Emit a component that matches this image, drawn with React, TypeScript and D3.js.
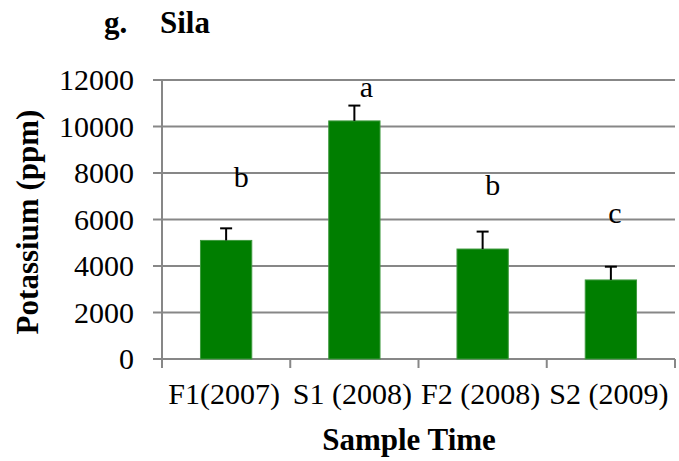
import * as d3 from "d3";

// Datos del gráfico (Sila)
const categorias = ["F1(2007)", "S1 (2008)", "F2 (2008)", "S2 (2009)"];
const potasio = [5100, 10240, 4730, 3400];
const errores = [520, 660, 750, 570];
const letras = ["b", "a", "b", "c"];
const letrasY = [7410, 11280, 7050, 5860];
const ticksY = [0, 2000, 4000, 6000, 8000, 10000, 12000];

const FUENTE = "Liberation Serif";

const width = 679;
const height = 461;
const left = 162;
const right = 675;
const top = 80;
const bottom = 359;
const grisEje = "#878787";

const App = () => {
  const x = d3.scaleBand<string>().domain(categorias).range([left, right]).padding(0);
  const y = d3.scaleLinear().domain([0, 12000]).range([bottom, top]);
  const barW = x.bandwidth() * 0.4;
  const cx = (c: string) => (x(c) as number) + x.bandwidth() / 2;
  // pequeños desplazamientos de las letras respecto al centro de la barra
  const dxLetra = [15, 12, 10, 4];
  const bordes = categorias.map((c) => x(c) as number).concat([right]);

  return (
    <svg
      width={width}
      height={height}
      style={{ position: "absolute", left: 0, top: 0, background: "#fff" }}
    >
      {/* Título */}
      <text y={33} fontFamily={FUENTE} fontWeight="bold" fontSize={31}>
        <tspan x={104}>g.</tspan>
        <tspan x={160}>Sila</tspan>
      </text>

      {/* Cuadrícula */}
      {ticksY.map((t) => (
        <line key={"g" + t} x1={left - 9} x2={right} y1={y(t)} y2={y(t)} stroke={grisEje} strokeWidth={2} />
      ))}

      {/* Eje Y */}
      <line x1={left} x2={left} y1={top} y2={bottom + 9} stroke={grisEje} strokeWidth={2} />

      {/* Marcas del eje X */}
      {bordes.map((b, i) => (
        <line key={"b" + i} x1={b} x2={b} y1={bottom} y2={bottom + 9} stroke={grisEje} strokeWidth={2} />
      ))}

      {/* Etiquetas del eje Y */}
      {ticksY.map((t) => (
        <text key={"t" + t} x={134} y={y(t)} dy="0.34em" textAnchor="end" fontFamily={FUENTE} fontSize={30}>
          {t}
        </text>
      ))}

      {/* Barras */}
      {potasio.map((v, i) => (
        <rect
          key={"r" + i}
          x={cx(categorias[i]) - barW / 2}
          y={y(v)}
          width={barW}
          height={bottom - y(v)}
          fill="#007e00"
          stroke="#3f9a3f"
          strokeWidth={1}
        />
      ))}

      {/* Barras de error (solo hacia arriba) */}
      {potasio.map((v, i) => {
        const xc = cx(categorias[i]);
        const yt = y(v + errores[i]);
        return (
          <g key={"e" + i} stroke="#000" strokeWidth={2}>
            <line x1={xc} x2={xc} y1={y(v)} y2={yt} />
            <line x1={xc - 6} x2={xc + 6} y1={yt} y2={yt} />
          </g>
        );
      })}

      {/* Letras de significancia */}
      {letras.map((l, i) => (
        <text
          key={"l" + i}
          x={cx(categorias[i]) + dxLetra[i]}
          y={y(letrasY[i])}
          textAnchor="middle"
          fontFamily={FUENTE}
          fontSize={30}
        >
          {l}
        </text>
      ))}

      {/* Etiquetas de categorías */}
      {categorias.map((c) => (
        <text key={c} x={cx(c) - 2} y={404} textAnchor="middle" fontFamily={FUENTE} fontSize={30}>
          {c}
        </text>
      ))}

      {/* Título del eje X */}
      <text x={409} y={450} textAnchor="middle" fontFamily={FUENTE} fontWeight="bold" fontSize={31}>
        Sample Time
      </text>

      {/* Título del eje Y */}
      <text
        transform="translate(38, 222) rotate(-90)"
        textAnchor="middle"
        fontFamily={FUENTE}
        fontWeight="bold"
        fontSize={31}
      >
        Potassium (ppm)
      </text>
    </svg>
  );
};

export default App;
